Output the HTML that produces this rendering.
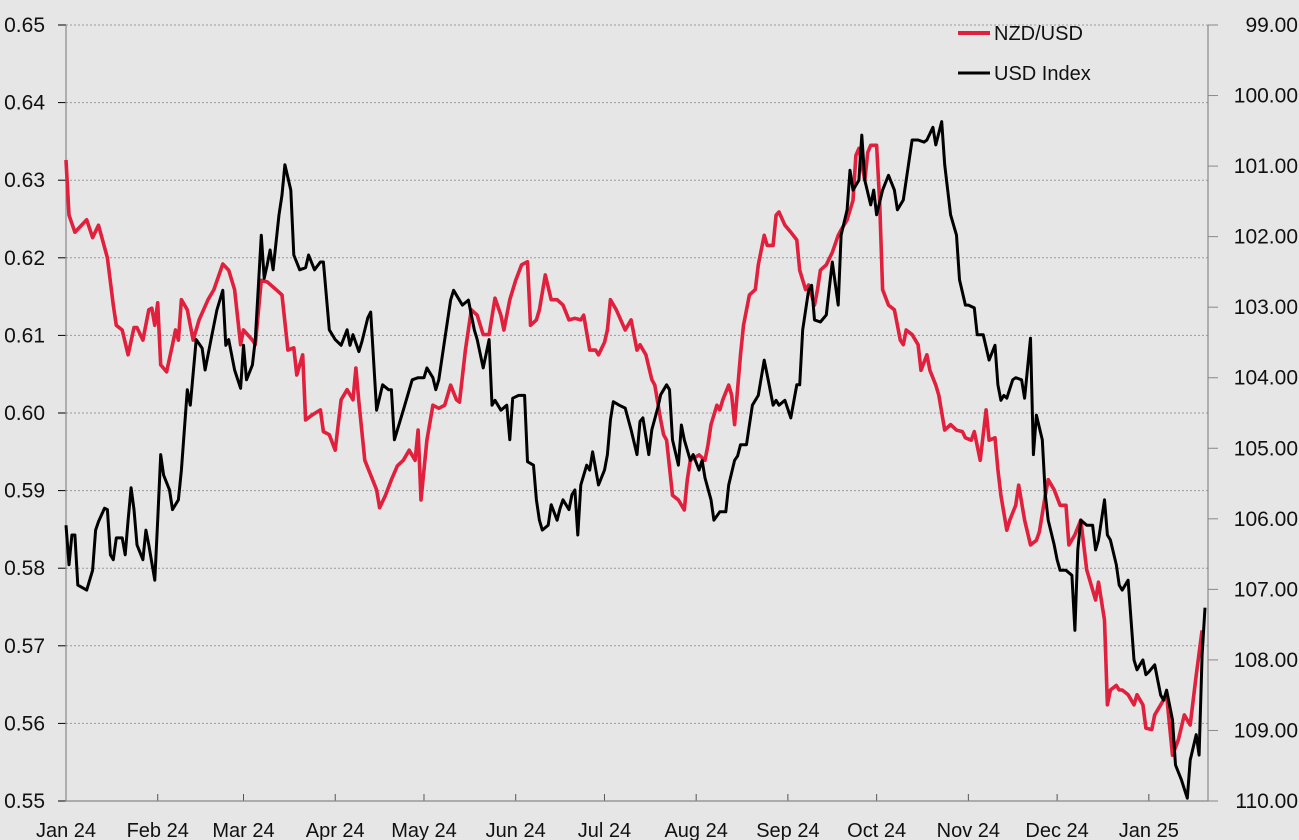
<!DOCTYPE html>
<html><head><meta charset="utf-8">
<style>
html,body{margin:0;padding:0;background:#e6e6e6;}
svg{display:block;font-family:"Liberation Sans",sans-serif;}
</style></head>
<body>
<svg id="chart" width="1299" height="840"></svg>
<script>
const monthLabels=["Jan 24","Feb 24","Mar 24","Apr 24","May 24","Jun 24","Jul 24","Aug 24","Sep 24","Oct 24","Nov 24","Dec 24","Jan 25"];
const monthDays=[0,31,60,91,121,152,182,213,244,274,305,335,366];
const leftTicks=[0.55,0.56,0.57,0.58,0.59,0.60,0.61,0.62,0.63,0.64,0.65];
const rightTicks=[99,100,101,102,103,104,105,106,107,108,109,110];
const nzdDays=[0,1,3,7,9,11,14,16,17,19,21,23,24,26,28,29,30,31,32,34,36,37,38,39,41,43,45,48,50,53,55,57,59,60,63,64,66,68,71,73,75,77,78,80,81,83,86,87,89,91,93,95,97,98,99,101,103,105,106,108,110,112,114,116,118,119,120,122,124,126,128,130,132,133,135,137,139,141,143,145,147,148,150,152,154,156,157,159,160,162,164,166,168,170,172,174,175,177,179,180,182,183,184,186,189,191,193,194,196,198,199,201,202,203,205,207,209,210,211,214,216,217,218,220,221,222,224,225,226,228,229,231,233,234,236,237,239,240,241,243,245,247,248,250,251,253,254,255,257,259,261,262,264,266,267,268,270,271,272,274,275,276,278,280,282,283,284,286,288,289,291,292,294,295,297,299,301,303,304,306,307,309,311,312,314,315,316,318,319,321,322,324,326,328,329,331,332,334,336,338,339,341,343,345,347,348,349,351,352,353,355,356,357,359,361,362,364,365,367,368,370,372,373,374,376,378,380,381,382,384];
const nzdValues=[.6326,.6255,.6233,.6249,.6226,.6242,.6200,.6139,.6113,.6107,.6075,.6110,.6110,.6094,.6133,.6135,.6113,.6142,.6062,.6053,.6088,.6107,.6094,.6146,.6133,.6094,.6120,.6146,.6159,.6192,.6184,.6159,.6088,.6107,.6094,.6088,.6171,.6169,.6159,.6152,.6081,.6084,.6049,.6075,.5991,.5997,.6004,.5976,.5972,.5952,.6017,.6030,.6017,.6058,.6014,.5939,.5920,.5901,.5878,.5894,.5914,.5932,.5939,.5952,.5939,.5978,.5888,.5965,.6010,.6006,.6010,.6036,.6017,.6014,.6081,.6133,.6126,.6101,.6101,.6148,.6126,.6107,.6146,.6171,.6191,.6195,.6113,.6120,.6133,.6178,.6146,.6146,.6139,.6120,.6122,.6120,.6126,.6081,.6081,.6075,.6091,.6107,.6146,.6133,.6107,.6120,.6081,.6088,.6075,.6043,.6036,.5991,.5972,.5965,.5894,.5888,.5875,.5914,.5939,.5946,.5939,.5959,.5985,.6010,.6004,.6017,.6036,.6023,.5985,.6075,.6113,.6152,.6159,.6191,.6229,.6216,.6216,.6255,.6259,.6242,.6233,.6223,.6184,.6159,.6165,.6139,.6159,.6184,.6191,.6207,.6229,.6236,.6249,.6274,.6332,.6341,.6300,.6336,.6345,.6345,.6274,.6159,.6139,.6133,.6094,.6088,.6107,.6101,.6088,.6055,.6075,.6055,.6036,.6023,.5978,.5985,.5978,.5976,.5968,.5965,.5976,.5939,.6004,.5965,.5968,.5927,.5894,.5849,.5862,.5881,.5907,.5862,.5830,.5836,.5847,.5894,.5914,.5901,.5881,.5881,.5830,.5843,.5862,.5798,.5772,.5759,.5782,.5733,.5624,.5643,.5649,.5643,.5643,.5637,.5624,.5637,.5624,.5594,.5592,.5611,.5624,.5637,.5598,.5559,.5579,.5611,.5598,.5630,.5662,.5720];
const usdDays=[0,1,2,3,4,7,9,10,11,13,14,15,16,17,19,20,21,22,23,24,26,27,28,30,31,32,33,35,36,38,39,41,42,44,46,47,49,51,53,54,55,57,59,60,61,63,64,66,67,68,69,70,72,73,74,76,77,79,81,82,84,86,87,89,91,93,95,96,97,99,100,102,103,105,107,109,110,111,114,115,117,119,121,122,124,125,126,128,130,131,132,134,136,138,139,141,143,144,145,147,149,150,151,153,155,156,158,159,160,161,163,164,166,167,168,170,171,172,173,174,176,177,178,180,182,183,184,185,187,189,191,193,194,195,197,198,200,201,203,204,205,207,208,209,211,212,214,215,216,218,219,221,223,224,226,227,228,230,231,232,234,236,237,239,240,241,243,245,247,248,249,251,252,253,255,257,258,259,261,262,264,265,266,268,269,270,272,273,274,276,278,280,281,283,284,286,288,290,291,293,294,296,297,299,301,302,304,305,307,308,310,312,314,315,316,317,318,320,321,323,324,326,327,328,330,331,332,334,335,336,338,340,341,342,343,345,347,348,349,351,352,353,355,356,357,359,361,362,364,365,366,368,370,371,372,374,375,377,379,380,382,383,384,385];
const usdValues=[106.09,106.65,106.23,106.23,106.94,107.01,106.73,106.16,106.04,105.85,105.87,106.51,106.58,106.27,106.27,106.51,106.02,105.56,105.87,106.37,106.58,106.16,106.37,106.87,106.02,105.09,105.38,105.59,105.87,105.73,105.31,104.17,104.39,103.46,103.58,103.89,103.46,103.04,102.76,103.54,103.46,103.89,104.15,103.54,104.03,103.82,103.46,101.98,102.59,102.40,102.19,102.47,101.69,101.41,100.98,101.34,102.26,102.47,102.44,102.26,102.47,102.36,102.36,103.32,103.46,103.54,103.32,103.54,103.39,103.63,103.49,103.15,103.07,104.46,104.10,104.17,104.17,104.88,104.46,104.32,104.03,104.00,104.00,103.86,104.00,104.17,104.03,103.46,102.90,102.76,102.83,102.97,102.90,103.32,103.46,103.86,103.46,104.39,104.32,104.46,104.39,104.88,104.29,104.25,104.25,105.19,105.24,105.73,106.02,106.16,106.09,105.80,106.02,105.85,105.73,105.87,105.66,105.59,106.23,105.52,105.24,105.31,105.05,105.52,105.31,105.09,104.60,104.34,104.39,104.43,104.74,105.09,104.62,104.57,105.09,104.74,104.43,104.24,104.10,104.17,104.88,105.24,104.67,104.88,105.17,105.09,105.31,105.17,105.42,105.73,106.02,105.90,105.90,105.52,105.17,105.11,104.95,104.95,104.67,104.39,104.25,103.75,103.96,104.39,104.32,104.39,104.32,104.57,104.10,104.10,103.32,102.76,102.69,103.18,103.21,103.11,102.73,102.36,102.97,101.98,101.62,101.06,101.34,101.20,100.56,101.20,101.55,101.34,101.69,101.34,101.13,101.34,101.62,101.48,101.20,100.63,100.63,100.66,100.63,100.45,100.70,100.37,100.98,101.69,101.98,102.61,102.97,102.97,103.01,103.39,103.39,103.75,103.54,104.10,104.32,104.25,104.29,104.03,104.00,104.03,104.29,103.44,105.09,104.53,104.88,105.66,106.02,106.37,106.58,106.73,106.73,106.80,107.58,106.44,106.02,106.09,106.09,106.44,106.30,105.73,106.23,106.30,106.65,106.94,107.01,106.87,108.00,108.14,108.00,108.21,108.17,108.07,108.50,108.57,108.43,108.85,109.49,109.70,109.96,109.42,109.06,109.35,107.93,107.26];

const L=66,R=1208,T=25,B=801;
const NS='http://www.w3.org/2000/svg';
const svg=document.getElementById('chart');
function xScale(d){return L+d*(R-L)/386;}
function yLeft(v){return B-(v-0.55)/(0.65-0.55)*(B-T);}
function yRight(v){return T+(v-99)/(110-99)*(B-T);}
function mk(tag,attrs,parent){const e=document.createElementNS(NS,tag);for(const k in attrs)e.setAttribute(k,attrs[k]);(parent||svg).appendChild(e);return e;}

mk('rect',{x:0,y:0,width:1299,height:840,fill:'#e6e6e6'});
const grid=mk('g',{});


leftTicks.forEach(v=>{
  const y=yLeft(v);
  if(v>0.55){const g=mk('line',{x1:L,x2:R,y1:y,y2:y,stroke:'#9a9a9a','stroke-width':1,'stroke-dasharray':'2,2'},grid);
  
  }
  mk('line',{x1:L-8,x2:L,y1:y,y2:y,stroke:'#000','stroke-width':1});
  const t=mk('text',{x:45,y:y+7,'text-anchor':'end','font-size':21,fill:'#111'});
  t.textContent=v.toFixed(2);
  
  
});
rightTicks.forEach(v=>{
  const y=yRight(v);
  mk('line',{x1:R,x2:R+10,y1:y,y2:y,stroke:'#888','stroke-width':1});
  const t=mk('text',{x:1298,y:y+7,'text-anchor':'end','font-size':21,fill:'#111'});
  t.textContent=v.toFixed(2);
  
  
});
monthDays.forEach((d,i)=>{
  const x=xScale(d);
  mk('line',{x1:x,x2:x,y1:B-7,y2:B,stroke:'#555','stroke-width':1});
  const t=mk('text',{x:x,y:837,'text-anchor':'middle','font-size':20,fill:'#111'});
  t.textContent=monthLabels[i];
  
  
});
const ax=mk('path',{d:`M${L},${T}V${B}H${R}V${T}`,fill:'none',stroke:'#888','stroke-width':1.2});



function line(days,vals,ys,color,w,name){
  const d=days.map((dd,i)=>(i?'L':'M')+xScale(dd).toFixed(1)+','+ys(vals[i]).toFixed(1)).join('');
  const p=mk('path',{d:d,fill:'none',stroke:color,'stroke-width':w,'stroke-linejoin':'round'});
  
  
}
line(nzdDays,nzdValues,yLeft,'#e0203d',3.6,'nzd-usd-line');
line(usdDays,usdValues,yRight,'#000',3,'usd-index-line');

const lg=mk('g',{});


mk('line',{x1:958,x2:990,y1:33,y2:33,stroke:'#e0203d','stroke-width':4},lg);
const t1=mk('text',{x:994,y:40,'font-size':20,fill:'#111'},lg);t1.textContent='NZD/USD';


mk('line',{x1:958,x2:990,y1:73,y2:73,stroke:'#000','stroke-width':3},lg);
const t2=mk('text',{x:994,y:80,'font-size':20,fill:'#111'},lg);t2.textContent='USD Index';


</script>
</body></html>
